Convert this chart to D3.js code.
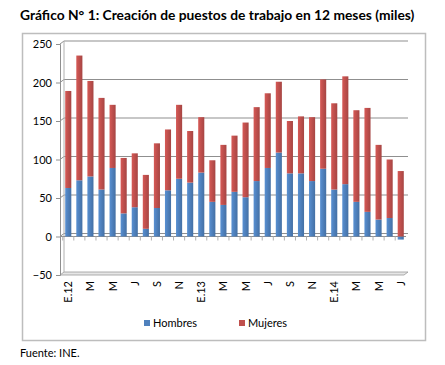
<!DOCTYPE html>
<html>
<head>
<meta charset="utf-8">
<title>Creación de puestos de trabajo</title>
<script src="https://d3js.org/d3.v7.min.js"></script>
<style>
  body { margin: 0; background: #fff; }
  text { font-family: Lato, "Open Sans", sans-serif; }
</style>
</head>
<body>
<script>
// datos: variación en 12 meses (miles), ene-2012 a jul-2014
var months = d3.range(31);
var monthLabels = ["E.12","","M","","M","","J","","S","","N","",
                   "E.13","","M","","M","","J","","S","","N","",
                   "E.14","","M","","M","","J"];
var hombres = [63,73,78,61,89,30,38,10,37,60,75,70,
               83,45,41,58,51,72,89,109,82,82,72,88,
               61,68,45,32,22,24,-4];
var mujeres = [126,162,124,119,82,72,70,70,84,79,96,67,
               72,54,78,73,97,96,97,92,68,74,83,116,
               112,140,119,135,97,76,85];
var yTicks = [-50,0,50,100,150,200,250];
var seriesNames = ["Hombres","Mujeres"];
var colors = ["#4f81bd","#c0504d"];

var width = 445, height = 365;
var svg = d3.select("body").append("svg").attr("width", width).attr("height", height);

// título
svg.append("text")
  .attr("x", 20).attr("y", 20)
  .attr("font-size", "13.8px").attr("font-weight", "bold")
  .attr("fill", "#000")
  .text("Gráfico N° 1: Creación de puestos de trabajo en 12 meses (miles)");

// marco del gráfico
svg.append("rect")
  .attr("x", 22.5).attr("y", 33.5).attr("width", 403).attr("height", 307)
  .attr("fill", "#fff").attr("stroke", "#bdbdbd").attr("stroke-width", 1.5);

var x = d3.scaleBand().domain(months).range([63, 406]).paddingInner(0.45).paddingOuter(0.2);
var y = d3.scaleLinear().domain([-50, 250]).range([275, 44]);

// gradientes para el efecto 3D de las columnas
var defs = svg.append("defs");
colors.forEach(function(c, i) {
  var g = defs.append("linearGradient").attr("id", "grad" + i)
    .attr("x1", "0%").attr("x2", "100%").attr("y1", "0%").attr("y2", "0%");
  g.append("stop").attr("offset", "0%").attr("stop-color", d3.color(c).brighter(0.3));
  g.append("stop").attr("offset", "45%").attr("stop-color", c);
  g.append("stop").attr("offset", "100%").attr("stop-color", d3.color(c).darker(0.4));
});

// líneas de división (pared del fondo)
var grid = svg.append("g");
grid.selectAll("line.grid")
  .data(yTicks.filter(function(d) { return d > -50; }))
  .enter().append("path")
  .attr("d", function(d) { return "M60," + y(d) + "L64," + (y(d) - 3) + "L408," + (y(d) - 3); })
  .attr("fill", "none")
  .attr("stroke", "#8f8f8f").attr("stroke-width", 1);

// suelo en -50
svg.append("path")
  .attr("d", "M60," + y(-50) + "L64," + (y(-50) - 3) + "L408," + (y(-50) - 3) + "L404," + y(-50) + "Z")
  .attr("fill", "#e6e6e6").attr("stroke", "#9a9a9a").attr("stroke-width", 0.8);

// pared izquierda
svg.append("line")
  .attr("x1", 64).attr("x2", 64).attr("y1", y(250) - 3).attr("y2", y(-50) - 3)
  .attr("stroke", "#b0b0b0");

// eje y
var yAxis = svg.append("g").attr("transform", "translate(60,0)")
  .call(d3.axisLeft(y).tickValues(yTicks).tickSize(4).tickPadding(4));
yAxis.select(".domain").attr("stroke", "#8f8f8f");
yAxis.selectAll(".tick line").attr("stroke", "#8f8f8f");
yAxis.selectAll("text").attr("font-size", "11px").attr("fill", "#000");

// eje de categorías en 0
var xAxis = svg.append("g").attr("transform", "translate(0," + y(0) + ")");
xAxis.append("line").attr("x1", 60).attr("x2", 406).attr("stroke", "#8f8f8f");
xAxis.selectAll("line.tk")
  .data(months).enter().append("line")
  .attr("x1", function(d) { return x(d) - x.step() * x.paddingInner() / 2; })
  .attr("x2", function(d) { return x(d) - x.step() * x.paddingInner() / 2; })
  .attr("y1", 0).attr("y2", 4)
  .attr("stroke", "#b0b0b0");

// columnas apiladas
var stackData = months.map(function(i) { return { i: i, h: hombres[i], m: mujeres[i] }; });
var bars = svg.append("g");
bars.selectAll("rect.h")
  .data(stackData).enter().append("rect")
  .attr("x", function(d) { return x(d.i); })
  .attr("width", x.bandwidth())
  .attr("y", function(d) { return y(Math.max(0, d.h)); })
  .attr("height", function(d) { return Math.abs(y(d.h) - y(0)); })
  .attr("fill", "url(#grad0)");
bars.selectAll("rect.m")
  .data(stackData).enter().append("rect")
  .attr("x", function(d) { return x(d.i); })
  .attr("width", x.bandwidth())
  .attr("y", function(d) { return y(Math.max(0, d.h) + d.m); })
  .attr("height", function(d) { return y(Math.max(0, d.h)) - y(Math.max(0, d.h) + d.m); })
  .attr("fill", "url(#grad1)");

// etiquetas de meses (verticales)
svg.append("g").selectAll("text")
  .data(months.filter(function(i) { return monthLabels[i] !== ""; }))
  .enter().append("text")
  .attr("transform", function(i) { return "translate(" + (x(i) + x.bandwidth() / 2 + 4) + "," + 281 + ") rotate(-90)"; })
  .attr("text-anchor", "end")
  .attr("font-size", "11px")
  .attr("fill", "#000")
  .text(function(i) { return monthLabels[i]; });

// leyenda
var legend = svg.append("g").selectAll("g")
  .data(seriesNames).enter().append("g")
  .attr("transform", function(d, i) { return "translate(" + (144 + i * 95) + ",323)"; });
legend.append("rect").attr("x", 0).attr("y", -3).attr("width", 6).attr("height", 6)
  .attr("fill", function(d, i) { return colors[i]; });
legend.append("text").attr("x", 9).attr("y", 4)
  .attr("font-size", "11px").attr("fill", "#000")
  .text(function(d) { return d; });

// fuente
svg.append("text")
  .attr("x", 20).attr("y", 357)
  .attr("font-size", "11px").attr("fill", "#000")
  .text("Fuente: INE.");
</script>
</body>
</html>
